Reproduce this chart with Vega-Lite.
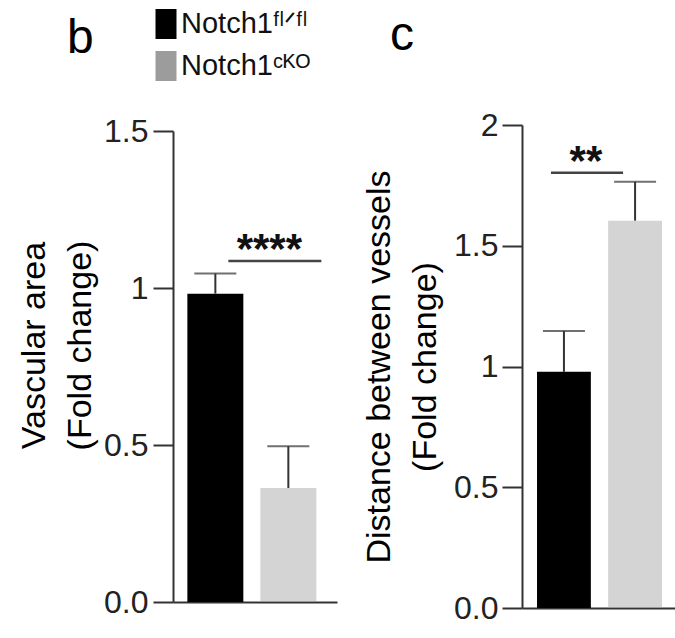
{
  "$schema": "https://vega.github.io/schema/vega-lite/v6.json",
  "padding": {"left": 17, "top": 9, "right": 0, "bottom": 0},
  "bounds": "flush",
  "center": true,
  "spacing": 185,
  "config": {
    "view": {"stroke": null},
    "axis": {"domainColor": "#333333", "domainWidth": 2, "tickColor": "#333333", "tickWidth": 2, "tickSize": 20, "labelFont": "Liberation Sans", "labelFontSize": 32, "labelColor": "#222222", "labelPadding": 5, "titleFont": "Liberation Sans", "titleFontSize": 34, "titleFontWeight": "normal", "titleColor": "#000000", "grid": false},
    "title": {"font": "Liberation Sans", "fontSize": 48, "fontWeight": "normal", "color": "#000000", "anchor": "start", "frame": "group"}
  },
  "datasets": {
    "b": [
      {"group": "Notch1ᶠˡᐟᶠˡ", "mean": 0.982, "upper": 1.046},
      {"group": "Notch1ᶜᴷᴼ", "mean": 0.363, "upper": 0.496}
    ],
    "c": [
      {"group": "Notch1ᶠˡᐟᶠˡ", "mean": 0.978, "upper": 1.147},
      {"group": "Notch1ᶜᴷᴼ", "mean": 1.604, "upper": 1.765}
    ],
    "bsig": [{"from": "Notch1ᶠˡᐟᶠˡ", "to": "Notch1ᶜᴷᴼ", "y": 1.086, "label": "****"}],
    "csig": [{"from": "Notch1ᶠˡᐟᶠˡ", "to": "Notch1ᶜᴷᴼ", "y": 1.802, "label": "**"}]
  },
  "hconcat": [
    {
      "width": 164,
      "height": 471,
      "title": {"text": "b", "dx": -106, "offset": 52},
      "layer": [
        {
          "data": {"name": "b"},
          "mark": {"type": "bar"},
          "encoding": {
            "x": {"field": "group", "type": "nominal", "sort": null, "scale": {"domain": ["Notch1ᶠˡᐟᶠˡ", "Notch1ᶜᴷᴼ"], "paddingInner": 0.233, "paddingOuter": 0.24, "align": 0.41}, "axis": {"labels": false, "ticks": false, "title": null}},
            "y": {"field": "mean", "type": "quantitative", "scale": {"domain": [0, 1.5], "nice": false}, "axis": {"values": [0, 0.5, 1, 1.5], "labelExpr": "datum.value == 0 ? '0.0' : format(datum.value, '~g')", "title": ["Vascular area", "(Fold change)"], "titlePadding": 6, "titleLineHeight": 46, "titleY": 214}},
            "color": {"field": "group", "type": "nominal", "scale": {"domain": ["Notch1ᶠˡᐟᶠˡ", "Notch1ᶜᴷᴼ"], "range": ["#000000", "#9c9c9c"]}, "legend": {"orient": "none", "legendX": -22, "legendY": -116, "title": null, "symbolType": "M-0.7,-1H0.7V1H-0.7Z", "symbolSize": 900, "symbolStrokeWidth": 0, "symbolOpacity": 1, "labelFont": "Liberation Sans", "labelFontSize": 29, "labelColor": "#111111", "labelBaseline": "middle", "rowPadding": 12, "labelOffset": 0, "padding": 0, "labelLimit": 300}},
            "opacity": {"condition": {"test": "datum.group == 'Notch1ᶜᴷᴼ'", "value": 0.44}, "value": 1}
          }
        },
        {
          "data": {"name": "b"},
          "mark": {"type": "rule", "color": "#333333", "strokeWidth": 2},
          "encoding": {
            "x": {"field": "group", "type": "nominal", "sort": null},
            "y": {"field": "mean", "type": "quantitative"},
            "y2": {"field": "upper"}
          }
        },
        {
          "data": {"name": "b"},
          "mark": {"type": "tick", "color": "#333333", "thickness": 2, "size": 42},
          "encoding": {
            "x": {"field": "group", "type": "nominal", "sort": null},
            "y": {"field": "upper", "type": "quantitative"}
          }
        },
        {
          "data": {"name": "bsig"},
          "mark": {"type": "rule", "color": "#444444", "strokeWidth": 2.5, "xOffset": 13, "x2Offset": 33},
          "encoding": {
            "x": {"field": "from", "type": "nominal"},
            "x2": {"field": "to"},
            "y": {"field": "y", "type": "quantitative"}
          }
        },
        {
          "data": {"name": "bsig"},
          "mark": {"type": "text", "color": "#111111", "fontSize": 42, "fontWeight": "bold", "font": "Liberation Sans", "align": "center", "baseline": "alphabetic", "xOffset": 54, "dy": 2},
          "encoding": {
            "x": {"field": "from", "type": "nominal"},
            "y": {"field": "y", "type": "quantitative"},
            "text": {"field": "label"}
          }
        }
      ]
    },
    {
      "width": 153,
      "height": 483,
      "title": {"text": "c", "dx": -132, "offset": 49},
      "layer": [
        {
          "data": {"name": "c"},
          "mark": {"type": "bar"},
          "encoding": {
            "x": {"field": "group", "type": "nominal", "sort": null, "scale": {"domain": ["Notch1ᶠˡᐟᶠˡ", "Notch1ᶜᴷᴼ"], "paddingInner": 0.243, "paddingOuter": 0.197, "align": 0.536}, "axis": {"labels": false, "ticks": false, "title": null}},
            "y": {"field": "mean", "type": "quantitative", "scale": {"domain": [0, 2], "nice": false}, "axis": {"values": [0, 0.5, 1, 1.5, 2], "labelExpr": "datum.value == 0 ? '0.0' : format(datum.value, '~g')", "title": ["Distance between vessels", "(Fold change)"], "titlePadding": 11, "titleLineHeight": 46, "labelPadding": 4}},
            "color": {"field": "group", "type": "nominal"},
            "opacity": {"condition": {"test": "datum.group == 'Notch1ᶜᴷᴼ'", "value": 0.44}, "value": 1}
          }
        },
        {
          "data": {"name": "c"},
          "mark": {"type": "rule", "color": "#333333", "strokeWidth": 2},
          "encoding": {
            "x": {"field": "group", "type": "nominal", "sort": null},
            "y": {"field": "mean", "type": "quantitative"},
            "y2": {"field": "upper"}
          }
        },
        {
          "data": {"name": "c"},
          "mark": {"type": "tick", "color": "#333333", "thickness": 2, "size": 42},
          "encoding": {
            "x": {"field": "group", "type": "nominal", "sort": null},
            "y": {"field": "upper", "type": "quantitative"}
          }
        },
        {
          "data": {"name": "csig"},
          "mark": {"type": "rule", "color": "#444444", "strokeWidth": 2.5, "xOffset": -13, "x2Offset": -12},
          "encoding": {
            "x": {"field": "from", "type": "nominal"},
            "x2": {"field": "to"},
            "y": {"field": "y", "type": "quantitative"}
          }
        },
        {
          "data": {"name": "csig"},
          "mark": {"type": "text", "color": "#111111", "fontSize": 42, "fontWeight": "bold", "font": "Liberation Sans", "align": "center", "baseline": "alphabetic", "xOffset": 22, "dy": 2},
          "encoding": {
            "x": {"field": "from", "type": "nominal"},
            "y": {"field": "y", "type": "quantitative"},
            "text": {"field": "label"}
          }
        }
      ]
    }
  ]
}
